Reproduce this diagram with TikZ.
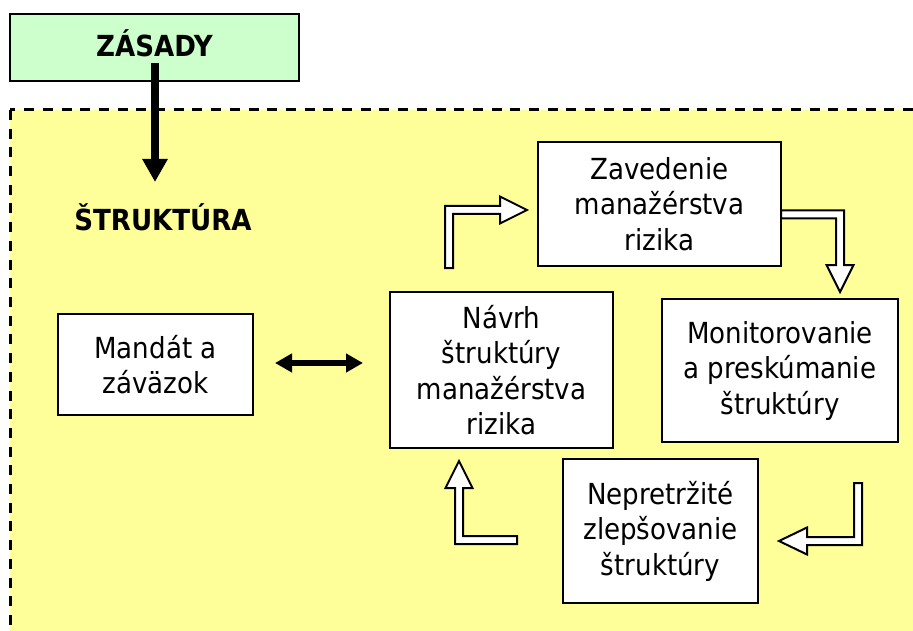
\documentclass[tikz,border=0pt]{standalone}
\usepackage{fontspec}
\setmainfont{DejaVu Sans Condensed}
\usetikzlibrary{arrows.meta}
\definecolor{panelyellow}{HTML}{FFFF99}
\definecolor{headgreen}{HTML}{CCFFCC}

\begin{document}
\begin{tikzpicture}[x=1pt,y=-1pt,
  box/.style={draw=black, line width=2pt, fill=white, align=center, inner sep=0pt,
    font=\fontsize{29}{35.5}\selectfont},
  headbox/.style={draw=black, line width=2pt, fill=headgreen, inner sep=0pt,
    font=\fontsize{29}{34}\selectfont\bfseries, text depth=9pt},
  heading/.style={inner sep=0pt, font=\fontsize{29}{34}\selectfont\bfseries},
  blockarrow/.style={draw=black, fill=white, line width=2pt, line join=miter},
  solidarrow/.style={draw=black, line width=7.5pt, -{Triangle[width=24pt,length=23pt]}},
  twoway/.style={draw=black, line width=5.5pt,
    {Triangle[width=18pt,length=17pt]}-{Triangle[width=18pt,length=17pt]}},
]
\useasboundingbox (0,0) rectangle (913,631);
\clip (0,0) rectangle (913,631);

% framework panel (runs off the right and bottom edges)
\fill[white] (0,0) rectangle (913,631);
\draw[fill=panelyellow, line width=3pt, dash pattern=on 10pt off 8.7pt]
  (10,110) rectangle (940,660);

% hollow L-shaped arrows of the cycle
\draw[blockarrow] (445,268) -- (445,206) -- (500,206) -- (500,196.5) -- (527,210)
  -- (500,223.5) -- (500,214) -- (453,214) -- (453,268) -- cycle;
\draw[blockarrow] (781,210.5) -- (844,210.5) -- (844,265) -- (853.5,265) -- (840,292)
  -- (826.5,265) -- (836,265) -- (836,218.5) -- (781,218.5) -- cycle;
\draw[blockarrow] (854,483) -- (862,483) -- (862,545) -- (807,545) -- (807,554.5)
  -- (779,541) -- (807,527.5) -- (807,537) -- (854,537) -- cycle;
\draw[blockarrow] (517,536) -- (517,544) -- (455,544) -- (455,488) -- (445.5,488)
  -- (459,461) -- (472.5,488) -- (463,488) -- (463,536) -- cycle;

% header and steps
\node[headbox, minimum width=289pt, minimum height=67pt] (zasady) at (154.5,47.5) {ZÁSADY};
\node[heading, anchor=base] (struktura) at (163,231) {ŠTRUKTÚRA};

\node[box, minimum width=195pt, minimum height=101pt] (mandat) at (155.5,364.5)
  {Mandát a\\záväzok};
\node[box, minimum width=223pt, minimum height=156pt] (navrh) at (501.5,370)
  {Návrh\\štruktúry\\manažérstva\\rizika};
\node[box, minimum width=243pt, minimum height=124pt] (zavedenie) at (659.5,204)
  {Zavedenie\\manažérstva\\rizika};
\node[box, minimum width=236pt, minimum height=143pt] (monitor) at (780,370.5)
  {Monitorovanie\\a preskúmanie\\štruktúry};
\node[box, minimum width=195pt, minimum height=144pt] (zlepsovanie) at (660.5,531)
  {Nepretržité\\zlepšovanie\\štruktúry};

% connectors
\coordinate (zasadyFoot) at (155,63);
\coordinate (strukturaTop) at (155,182);
\draw[solidarrow] (zasadyFoot) -- (strukturaTop);

\coordinate (linkL) at (275,363);
\coordinate (linkR) at (363,363);
\draw[twoway] (linkL) -- (linkR);
\end{tikzpicture}
\end{document}
